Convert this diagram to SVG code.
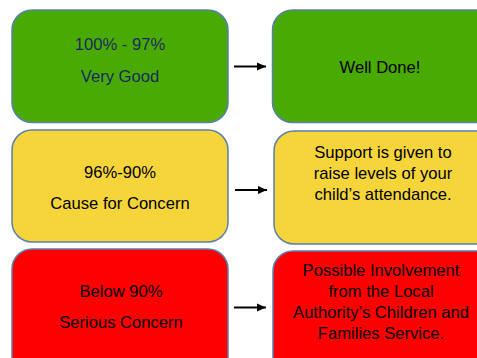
<svg xmlns="http://www.w3.org/2000/svg" width="477" height="358" viewBox="0 0 477 358">
<style>
.box{stroke:#5b7fae;stroke-width:1.5}
.g{fill:#4aaa04}.y{fill:#f5d53a}.r{fill:#fe0000}
text{font-family:"Liberation Sans",Arial,sans-serif;font-size:16.6px;text-anchor:middle;fill:#000}
.navy{fill:#1b2a5c}
.arr{stroke:#000;stroke-width:2;fill:none}
</style>
<defs>
<marker id="ah" markerWidth="10" markerHeight="10" refX="9" refY="4.5" orient="auto" markerUnits="userSpaceOnUse">
<path d="M0,0.5 L9,4.5 L0,8.5 Z" fill="#000"/>
</marker>
</defs>
<rect width="477" height="358" fill="#fff"/>
<g id="n1">
<rect class="box g" x="12" y="10" width="216" height="112.5" rx="20"/>
<text class="navy" x="120" y="50">100% - 97%</text>
<text class="navy" x="120" y="81.5">Very Good</text>
</g>
<g id="n2">
<rect class="box g" x="272.5" y="10" width="230" height="112.5" rx="20"/>
<text x="380" y="72.5">Well Done!</text>
</g>
<g id="n3">
<rect class="box y" x="12" y="130" width="216" height="112" rx="20"/>
<text x="120" y="177.5">96%-90%</text>
<text x="120" y="208.5">Cause for Concern</text>
</g>
<g id="n4">
<rect class="box y" x="274" y="131" width="230" height="113" rx="20"/>
<text x="383" y="157.5">Support is given to</text>
<text x="383" y="179">raise levels of your</text>
<text x="383" y="200">child’s attendance.</text>
</g>
<g id="n5">
<rect class="box r" x="12" y="249" width="216" height="130" rx="20"/>
<text x="121" y="296.5">Below 90%</text>
<text x="121" y="327.5">Serious Concern</text>
</g>
<g id="n6">
<rect class="box r" x="273" y="251" width="230" height="130" rx="20"/>
<text x="381" y="276">Possible Involvement</text>
<text x="381" y="297">from the Local</text>
<text x="381" y="318">Authority’s Children and</text>
<text x="381" y="338.5">Families Service.</text>
</g>
<g id="connectors">
<line class="arr" x1="234" y1="66.5" x2="266" y2="66.5" marker-end="url(#ah)"/>
<line class="arr" x1="235" y1="190" x2="267" y2="190" marker-end="url(#ah)"/>
<line class="arr" x1="234" y1="307.5" x2="266" y2="307.5" marker-end="url(#ah)"/>
</g>
</svg>
